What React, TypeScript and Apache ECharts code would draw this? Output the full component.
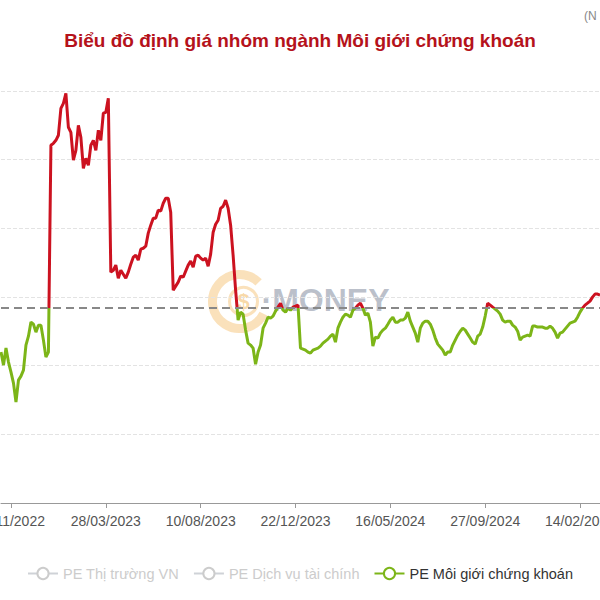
import React, { useEffect, useRef } from "react";
import * as echarts from "echarts";

const title = "Biểu đồ định giá nhóm ngành Môi giới chứng khoán";
const sourceNote = "(N";
const seriesNames = ["PE Thị trường VN", "PE Dịch vụ tài chính", "PE Môi giới chứng khoán"];

// anchor dates shown as x-axis tick labels (every 38 points, starting at index 4)
const tickLabels = ["11/11/2022", "28/03/2023", "10/08/2023", "22/12/2023", "16/05/2024", "27/09/2024", "14/02/2025"];
const tickStart = 4;
const tickStep = 38;

const peBroker = [
  10.99, 10.04, 11.28, 10.26, 9.53, 8.73, 7.35, 8.95, 9.24, 9.68,
  11.5, 12.15, 13.17, 13.02, 12.44, 12.95, 12.95, 11.86, 10.62, 10.99,
  26.05, 26.19, 26.41, 26.78, 28.74, 29.1, 29.83, 27.36, 26.99, 24.96,
  25.68, 27.5, 26.63, 24.37, 25.1, 24.59, 26.05, 26.41, 25.68, 27.14,
  26.41, 28.38, 28.45, 29.47, 16.81, 16.95, 17.32, 16.37, 16.95, 16.66,
  16.37, 16.81, 17.39, 17.9, 18.04, 17.68, 18.48, 18.55, 18.7, 19.65,
  20.23, 20.74, 20.74, 21.32, 21.25, 21.83, 22.19, 22.19, 21.17, 15.5,
  15.79, 16.08, 16.52, 16.44, 16.88, 17.32, 17.61, 17.17, 17.97, 18.04,
  17.83, 17.68, 17.83, 17.24, 18.12, 19.72, 20.3, 20.59, 21.46, 21.61,
  22.05, 21.46, 20.23, 18.04, 15.5, 13.32, 13.9, 13.75, 12.59, 11.64,
  11.5, 11.28, 10.11, 10.99, 11.5, 12.73, 13.1, 13.53, 13.46, 13.61,
  13.97, 14.26, 14.55, 14.04, 13.9, 14.19, 14.04, 14.26, 14.33, 14.41,
  11.28, 11.21, 11.13, 10.99, 10.91, 11.13, 11.21, 11.28, 11.42, 11.64,
  11.79, 11.93, 12.15, 12.3, 11.71, 12.73, 13.17, 13.53, 13.75, 13.68,
  13.53, 14.04, 14.19, 14.41, 14.55, 14.19, 13.68, 13.82, 13.17, 11.42,
  12.08, 12.01, 12.37, 12.59, 12.73, 13.02, 13.32, 13.53, 13.17, 13.17,
  13.32, 13.32, 13.46, 13.9, 13.24, 12.81, 12.37, 11.71, 12.73, 13.1,
  13.24, 13.24, 13.02, 12.59, 12.01, 11.57, 11.35, 11.13, 10.77, 10.99,
  10.99, 11.5, 11.86, 12.22, 12.51, 12.73, 12.59, 12.3, 12.01, 11.71,
  11.57, 12.15, 12.3, 12.81, 13.61, 14.55, 14.41, 14.26, 14.12, 13.97,
  13.75, 13.32, 13.17, 13.24, 13.24, 12.95, 12.81, 12.51, 11.86, 12.08,
  12.15, 12.22, 12.15, 12.88, 12.88, 12.81, 12.81, 12.81, 12.73, 12.73,
  12.88, 12.73, 12.44, 12.01, 12.37, 12.44, 12.66, 12.88, 13.1, 13.17,
  13.24, 13.53, 13.9, 14.19, 14.41, 14.55, 14.7, 14.99, 15.21, 15.21,
  15.13,
];
const peMarket: number[] = [];
const peFinance: number[] = [];
const peBrokerMean = 14.2;

function parseDate(s: string) {
  const [d, m, y] = s.split("/").map(Number);
  return Date.UTC(y, m - 1, d);
}
function fmt(t: number) {
  const d = new Date(t);
  const dd = String(d.getUTCDate()).padStart(2, "0");
  const mm = String(d.getUTCMonth() + 1).padStart(2, "0");
  return `${dd}/${mm}/${d.getUTCFullYear()}`;
}
function buildCategories(n: number) {
  const DAY = 86400000;
  const anchors = tickLabels.map(parseDate);
  const out: string[] = [];
  for (let i = 0; i < n; i++) {
    const k = (i - tickStart) / tickStep;
    const a = Math.max(0, Math.min(anchors.length - 2, Math.floor(k)));
    const t0 = anchors[a];
    const t1 = anchors[a + 1];
    const t = t0 + (t1 - t0) * (k - a);
    out.push((i - tickStart) % tickStep === 0 ? tickLabels[(i - tickStart) / tickStep] : fmt(Math.round(t / DAY) * DAY));
  }
  return out;
}
const categories = buildCategories(peBroker.length);

const RED = "#cc1220";
const GREEN = "#7cb518";
const FONT = 'Arial, "Liberation Sans", sans-serif';

export default function App() {
  const ref = useRef<HTMLDivElement>(null);
  useEffect(() => {
    if (!ref.current) return;
    const chart = echarts.init(ref.current, undefined, { renderer: "svg" });
    const showTick = (idx: number) => (idx - tickStart) % tickStep === 0;
    chart.setOption({
      animation: false,
      backgroundColor: "#ffffff",
      textStyle: { fontFamily: FONT },
      title: {
        text: title,
        left: "center",
        top: 26,
        textStyle: { color: "#b5121b", fontSize: 19, fontWeight: "bold", fontFamily: FONT },
      },
      graphic: [
        {
          type: "text",
          left: 584,
          top: 10,
          style: { text: sourceNote, fill: "#888", font: `12px ${FONT}` },
        },
        {
          type: "group",
          left: 208,
          top: 270,
          silent: true,
          children: [
            { type: "arc", shape: { cx: 32, cy: 32, r: 27, startAngle: Math.PI * 0.15, endAngle: Math.PI * 1.75 }, style: { stroke: "rgba(240,170,60,0.35)", lineWidth: 9, fill: "none" } },
            { type: "circle", shape: { cx: 36, cy: 32, r: 14 }, style: { stroke: "rgba(240,170,60,0.35)", lineWidth: 3, fill: "rgba(255,255,255,0)" } },
            { type: "text", x: 36, y: 32, style: { text: "$", fill: "rgba(240,170,60,0.45)", font: `bold 22px ${FONT}`, align: "center", verticalAlign: "middle" } },
            { type: "text", x: 54, y: 30, style: { text: "·MONEY", fill: "rgba(120,130,150,0.5)", font: `bold 32px ${FONT}`, verticalAlign: "middle" } },
          ],
        },
      ],
      legend: {
        bottom: 14,
        left: "center",
        itemWidth: 30,
        itemHeight: 14,
        itemGap: 14,
        data: seriesNames,
        selected: { [seriesNames[0]]: false, [seriesNames[1]]: false, [seriesNames[2]]: true },
        textStyle: { fontSize: 14.5, color: "#333", fontFamily: FONT },
        inactiveColor: "#ccc",
      },
      grid: { left: 1, right: 0, top: 91, bottom: 97, outerBoundsMode: "none", containLabel: false },
      xAxis: {
        type: "category",
        data: categories,
        boundaryGap: false,
        axisLine: { lineStyle: { color: "#999", width: 1 } },
        axisTick: { interval: showTick, length: 5, lineStyle: { color: "#999" } },
        axisLabel: { interval: showTick, color: "#555", fontSize: 14, margin: 11, fontFamily: FONT, hideOverlap: false },
        splitLine: { show: false },
      },
      yAxis: {
        type: "value",
        min: 0,
        max: 30,
        interval: 5,
        axisLabel: { show: false },
        axisLine: { show: false },
        axisTick: { show: false },
        splitLine: { lineStyle: { color: "#e3e3e3", type: "dashed", width: 1 } },
      },
      visualMap: {
        show: false,
        type: "piecewise",
        seriesIndex: 2,
        dimension: 1,
        pieces: [
          { gt: 0, lte: peBrokerMean, color: GREEN },
          { gt: peBrokerMean, lte: 100, color: RED },
        ],
        outOfRange: { color: GREEN },
      },
      series: [
        { name: seriesNames[0], type: "line", data: peMarket, symbol: "emptyCircle", color: "#999" },
        { name: seriesNames[1], type: "line", data: peFinance, symbol: "emptyCircle", color: "#999" },
        {
          name: seriesNames[2],
          type: "line",
          data: peBroker,
          color: GREEN,
          symbol: "emptyCircle",
          symbolSize: 8,
          showSymbol: false,
          lineStyle: { width: 3 },
          markLine: {
            silent: true,
            symbol: "none",
            label: { show: false },
            lineStyle: { color: "#888", type: [8, 5], width: 2 },
            data: [{ yAxis: peBrokerMean }],
          },
        },
      ],
    });
    return () => chart.dispose();
  }, []);
  return <div ref={ref} style={{ position: "absolute", left: 0, top: 0, width: 600, height: 600 }} />;
}
